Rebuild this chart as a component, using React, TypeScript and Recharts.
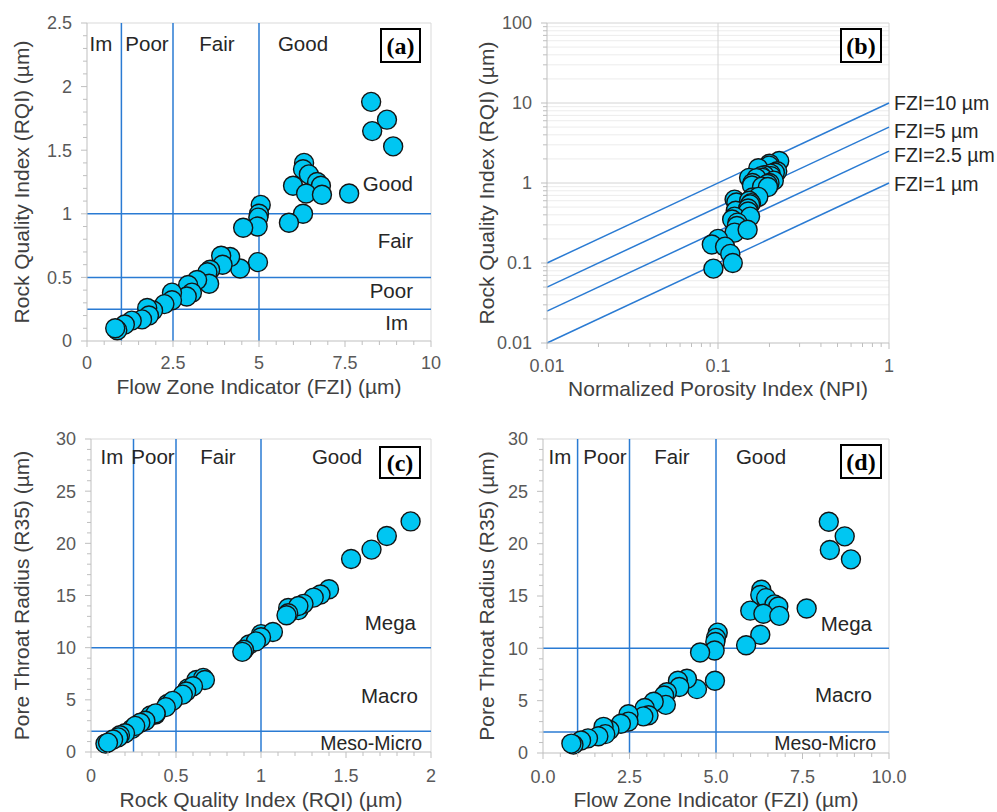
import React from 'react';
import { ScatterChart, Scatter, XAxis, YAxis, ReferenceLine } from 'recharts';

// core plug samples: flow zone indicator (µm), rock quality index (µm),
// normalized porosity index, pore throat radius at 35% saturation (µm)
const FZI = [8.26, 8.72, 8.29, 8.9, 7.62, 6.31, 6.28, 6.45, 5.99, 6.69, 6.8, 6.37, 6.83, 6.28, 5.87, 5.05, 5.0, 4.98, 4.96, 4.54, 4.97, 4.45, 4.16, 3.9, 3.94, 3.58, 3.5, 3.55, 3.2, 2.94, 3.05, 2.9, 2.47, 2.47, 2.25, 1.92, 1.75, 1.8, 1.6, 1.3, 1.1, 0.88, 0.82];
const RQI = [1.88, 1.74, 1.65, 1.53, 1.16, 1.4, 1.35, 1.31, 1.22, 1.25, 1.22, 1.16, 1.15, 1.0, 0.93, 1.07, 1.0, 0.97, 0.9, 0.89, 0.62, 0.57, 0.66, 0.67, 0.6, 0.56, 0.54, 0.45, 0.48, 0.44, 0.38, 0.35, 0.38, 0.32, 0.29, 0.24, 0.26, 0.2, 0.17, 0.16, 0.13, 0.085, 0.1];
const NPI = [0.228, 0.2, 0.199, 0.172, 0.152, 0.222, 0.215, 0.203, 0.204, 0.187, 0.179, 0.182, 0.168, 0.159, 0.158, 0.212, 0.2, 0.195, 0.181, 0.196, 0.125, 0.128, 0.159, 0.172, 0.152, 0.156, 0.154, 0.127, 0.15, 0.15, 0.125, 0.121, 0.154, 0.13, 0.129, 0.125, 0.149, 0.1, 0.092, 0.11, 0.118, 0.094, 0.122];
const R35 = [22.1, 20.7, 19.4, 18.5, 13.8, 15.6, 15.1, 14.8, 13.6, 14.2, 14.0, 13.3, 13.1, 11.3, 10.3, 11.5, 11.0, 10.6, 9.8, 9.6, 6.9, 6.1, 7.1, 6.9, 6.3, 5.8, 5.5, 4.6, 4.9, 4.3, 3.6, 3.5, 3.7, 3.0, 2.8, 2.2, 2.5, 1.8, 1.6, 1.4, 1.2, 0.8, 0.9];

// class boundaries
const FZI_CUTS = [1, 2.5, 5];
const RQI_CUTS = [0.25, 0.5, 1];
const R35_CUTS = [2, 10];
// iso-FZI lines drawn across the NPI range
const FZI_LINES = [10, 5, 2.5, 1];
const NPI_RANGE = [0.01, 1];

const samples = FZI.map((f, i) => ({ fzi: f, rqi: RQI[i], npi: NPI[i], r35: R35[i] }));

const AXIS_GRAY = '#bfbfbf';
const BORDER_GRAY = '#d9d9d9';
const GRID_MAJOR = '#d4d4d4';
const GRID_MINOR = '#ececec';
const ZONE_BLUE = '#2a7bd3';
const DOT_FILL = '#00c6f2';
const TICK_TEXT = '#595959';
const TITLE_TEXT = '#404040';
const NOTE_TEXT = '#262626';
const FONT = '"Liberation Sans", Arial, sans-serif';
const TICK_SIZE = 18;

const linearTicks = (max: number, step: number) =>
  Array.from({ length: Math.round(max / step) + 1 }, (_, i) => +(i * step).toFixed(4));

const logTicks = (lo: number, hi: number) => {
  const out: number[] = [];
  for (let d = lo; d < hi * 0.999; d *= 10) {
    for (let k = 1; k < 10; k++) out.push(+(d * k).toPrecision(3));
  }
  out.push(hi);
  return out;
};

const isMajor = (v: number, majors: number[]) =>
  majors.some((m) => Math.abs(m - v) < 1e-6 * Math.max(1, Math.abs(m)));

const xTick = (majors: number[], fmt: (v: number) => string, dy: number) => (props: any) => {
  const { x, y, payload } = props;
  const major = isMajor(payload.value, majors);
  return (
    <g>
      <line x1={x} x2={x} y1={y} y2={y + (major ? 6 : 4)} stroke={AXIS_GRAY} />
      {major && (
        <text x={x} y={y + dy} textAnchor="middle" fontSize={TICK_SIZE} fill={TICK_TEXT} fontFamily={FONT}>
          {fmt(payload.value)}
        </text>
      )}
    </g>
  );
};

const yTick = (majors: number[], fmt: (v: number) => string) => (props: any) => {
  const { x, y, payload } = props;
  const major = isMajor(payload.value, majors);
  return (
    <g>
      <line x1={x} x2={x - (major ? 6 : 4)} y1={y} y2={y} stroke={AXIS_GRAY} />
      {major && (
        <text x={x - 15} y={y} dy="0.36em" textAnchor="end" fontSize={TICK_SIZE} fill={TICK_TEXT} fontFamily={FONT}>
          {fmt(payload.value)}
        </text>
      )}
    </g>
  );
};

const Bubble = (p: any) => (
  <circle cx={p.cx} cy={p.cy} r={9.5} fill={DOT_FILL} stroke="#141414" strokeWidth={1.4} />
);

const titleStyle = { fill: TITLE_TEXT, fontSize: 21, fontFamily: FONT };

const zoneLines = (xs: number[], ys: number[]) => [
  ...xs.map((v) => <ReferenceLine key={`vx${v}`} x={v} stroke={ZONE_BLUE} strokeWidth={1.5} />),
  ...ys.map((v) => <ReferenceLine key={`hy${v}`} y={v} stroke={ZONE_BLUE} strokeWidth={1.5} />),
];

const frame = (xMax: number, yMax: number) => [
  <ReferenceLine key="top" y={yMax} stroke={BORDER_GRAY} />,
  <ReferenceLine key="right" x={xMax} stroke={BORDER_GRAY} />,
];

const str = (v: number) => String(v);

const Note = ({ x, y, anchor = 'middle', size = 20.5, children }: any) => (
  <text x={x} y={y} textAnchor={anchor} fontSize={size} fill={NOTE_TEXT} fontFamily={FONT}>
    {children}
  </text>
);

const Tag = ({ x, y, w, h, label }: any) => (
  <g>
    <rect x={x} y={y} width={w} height={h} fill="#fff" stroke="#000" strokeWidth={2} />
    <text
      x={x + w / 2}
      y={y + h / 2}
      dy="0.34em"
      textAnchor="middle"
      fontSize={24}
      fontWeight="bold"
      fontFamily='"Liberation Serif", "Times New Roman", serif'
      fill="#000"
    >
      {label}
    </text>
  </g>
);

const box = (left: number, top: number): React.CSSProperties => ({ position: 'absolute', left, top });

export default function App() {
  const fziMinor = linearTicks(10, 0.5);
  const fziMajor = [0, 2.5, 5, 7.5, 10];
  const npiTicks = logTicks(0.01, 1);
  const rqiLogTicks = logTicks(0.01, 100);
  const rqiLogMinor = rqiLogTicks.filter((v) => !isMajor(v, [0.01, 0.1, 1, 10, 100]));

  return (
    <div style={{ position: 'absolute', left: 0, top: 0, width: 997, height: 812, background: '#fff' }}>
      {/* (a) RQI vs FZI */}
      <div style={box(0, 0)}>
        <ScatterChart width={450} height={400} margin={{ top: 23, right: 19, bottom: 4, left: 0 }}>
          {frame(10, 2.5)}
          {zoneLines(FZI_CUTS, RQI_CUTS)}
          <XAxis
            type="number" dataKey="fzi" domain={[0, 10]} ticks={fziMinor} interval={0}
            tickSize={0} tickMargin={0} tickLine={false} axisLine={{ stroke: AXIS_GRAY }}
            tick={xTick(fziMajor, str, 28)} height={55}
            label={{ value: 'Flow Zone Indicator (FZI) (µm)', position: 'insideBottom', offset: 2, ...titleStyle }}
          />
          <YAxis
            type="number" dataKey="rqi" domain={[0, 2.5]} ticks={linearTicks(2.5, 0.1)} interval={0}
            tickSize={0} tickMargin={0} tickLine={false} axisLine={{ stroke: AXIS_GRAY }}
            tick={yTick(linearTicks(2.5, 0.5), str)} width={87}
            label={{ value: 'Rock Quality Index (RQI) (µm)', angle: -90, position: 'insideLeft', offset: 22, style: { textAnchor: 'middle' }, ...titleStyle }}
          />
          <Scatter data={samples} shape={Bubble} isAnimationActive={false} />
        </ScatterChart>
      </div>

      {/* (b) RQI vs NPI, log-log */}
      <div style={box(472, 0)}>
        <ScatterChart width={440} height={400} margin={{ top: 23, right: 23, bottom: 2, left: 0 }}>
          {rqiLogMinor.map((v) => (
            <ReferenceLine key={`gm${v}`} y={v} stroke={GRID_MINOR} />
          ))}
          {[0.1, 1, 10].map((v) => (
            <ReferenceLine key={`gy${v}`} y={v} stroke={GRID_MAJOR} />
          ))}
          <ReferenceLine x={0.1} stroke={GRID_MAJOR} />
          <ReferenceLine y={100} stroke={GRID_MAJOR} />
          <ReferenceLine x={1} stroke={GRID_MAJOR} />
          {FZI_LINES.map((f) => (
            <ReferenceLine
              key={`fzi${f}`}
              segment={[
                { x: NPI_RANGE[0], y: f * NPI_RANGE[0] },
                { x: NPI_RANGE[1], y: f * NPI_RANGE[1] },
              ]}
              stroke={ZONE_BLUE}
              strokeWidth={1.5}
            />
          ))}
          <XAxis
            type="number" dataKey="npi" scale="log" domain={[0.01, 1]} allowDataOverflow ticks={npiTicks} interval={0}
            tickSize={0} tickMargin={0} tickLine={false} axisLine={{ stroke: AXIS_GRAY }}
            tick={xTick([0.01, 0.1, 1], str, 29)} height={55}
            label={{ value: 'Normalized Porosity Index (NPI)', position: 'insideBottom', offset: 2, ...titleStyle }}
          />
          <YAxis
            type="number" dataKey="rqi" scale="log" domain={[0.01, 100]} allowDataOverflow ticks={rqiLogTicks} interval={0}
            tickSize={0} tickMargin={0} tickLine={false} axisLine={{ stroke: AXIS_GRAY }}
            tick={yTick([0.01, 0.1, 1, 10, 100], str)} width={75}
            label={{ value: 'Rock Quality Index (RQI) (µm)', angle: -90, position: 'insideLeft', offset: 15, style: { textAnchor: 'middle' }, ...titleStyle }}
          />
          <Scatter data={samples} shape={Bubble} isAnimationActive={false} />
        </ScatterChart>
      </div>

      {/* (c) R35 vs RQI */}
      <div style={box(0, 410)}>
        <ScatterChart width={450} height={402} margin={{ top: 29, right: 19, bottom: 3, left: 0 }}>
          {frame(2, 30)}
          {zoneLines(RQI_CUTS, R35_CUTS)}
          <XAxis
            type="number" dataKey="rqi" domain={[0, 2]} ticks={linearTicks(2, 0.1)} interval={0}
            tickSize={0} tickMargin={0} tickLine={false} axisLine={{ stroke: AXIS_GRAY }}
            tick={xTick([0, 0.5, 1, 1.5, 2], str, 30)} height={57}
            label={{ value: 'Rock Quality Index (RQI) (µm)', position: 'insideBottom', offset: 2, ...titleStyle }}
          />
          <YAxis
            type="number" dataKey="r35" domain={[0, 30]} ticks={linearTicks(30, 1)} interval={0}
            tickSize={0} tickMargin={0} tickLine={false} axisLine={{ stroke: AXIS_GRAY }}
            tick={yTick(linearTicks(30, 5), str)} width={91}
            label={{ value: 'Pore Throat Radius (R35) (µm)', angle: -90, position: 'insideLeft', offset: 22, style: { textAnchor: 'middle' }, ...titleStyle }}
          />
          <Scatter data={samples} shape={Bubble} isAnimationActive={false} />
        </ScatterChart>
      </div>

      {/* (d) R35 vs FZI */}
      <div style={box(472, 410)}>
        <ScatterChart width={445} height={402} margin={{ top: 29, right: 28, bottom: 3, left: 0 }}>
          {frame(10, 30)}
          {zoneLines(FZI_CUTS, R35_CUTS)}
          <XAxis
            type="number" dataKey="fzi" domain={[0, 10]} ticks={fziMinor} interval={0}
            tickSize={0} tickMargin={0} tickLine={false} axisLine={{ stroke: AXIS_GRAY }}
            tick={xTick(fziMajor, (v) => v.toFixed(1), 30)} height={56}
            label={{ value: 'Flow Zone Indicator (FZI) (µm)', position: 'insideBottom', offset: 2, ...titleStyle }}
          />
          <YAxis
            type="number" dataKey="r35" domain={[0, 30]} ticks={linearTicks(30, 1)} interval={0}
            tickSize={0} tickMargin={0} tickLine={false} axisLine={{ stroke: AXIS_GRAY }}
            tick={yTick(linearTicks(30, 5), str)} width={71}
            label={{ value: 'Pore Throat Radius (R35) (µm)', angle: -90, position: 'insideLeft', offset: 15, style: { textAnchor: 'middle' }, ...titleStyle }}
          />
          <Scatter data={samples} shape={Bubble} isAnimationActive={false} />
        </ScatterChart>
      </div>

      {/* class names, iso-FZI labels and panel tags */}
      <svg width={997} height={812} style={{ position: 'absolute', left: 0, top: 0, pointerEvents: 'none' }}>
        <Note x={101} y={51}>Im</Note>
        <Note x={147} y={51}>Poor</Note>
        <Note x={217} y={51}>Fair</Note>
        <Note x={303} y={51}>Good</Note>
        <Note x={413} y={191} anchor="end">Good</Note>
        <Note x={413} y={248} anchor="end">Fair</Note>
        <Note x={413} y={298} anchor="end">Poor</Note>
        <Note x={408} y={330} anchor="end">Im</Note>
        <Tag x={381} y={29} w={39} h={33} label="(a)" />

        <Note x={894} y={110} anchor="start" size={19.5}>FZI=10 µm</Note>
        <Note x={894} y={138} anchor="start" size={19.5}>FZI=5 µm</Note>
        <Note x={894} y={162} anchor="start" size={19.5}>FZI=2.5 µm</Note>
        <Note x={894} y={191} anchor="start" size={19.5}>FZI=1 µm</Note>
        <Tag x={841} y={29} w={40} h={33} label="(b)" />

        <Note x={112} y={464}>Im</Note>
        <Note x={153} y={464}>Poor</Note>
        <Note x={218} y={464}>Fair</Note>
        <Note x={337} y={464}>Good</Note>
        <Note x={416} y={630} anchor="end">Mega</Note>
        <Note x={418} y={703} anchor="end">Macro</Note>
        <Note x={422} y={750} anchor="end" size={19.5}>Meso-Micro</Note>
        <Tag x={380} y={447} w={40} h={31} label="(c)" />

        <Note x={560} y={464}>Im</Note>
        <Note x={605} y={464}>Poor</Note>
        <Note x={672} y={464}>Fair</Note>
        <Note x={761} y={464}>Good</Note>
        <Note x={872} y={631} anchor="end">Mega</Note>
        <Note x={872} y={702} anchor="end">Macro</Note>
        <Note x={876} y={750} anchor="end" size={19.5}>Meso-Micro</Note>
        <Tag x={841} y={445} w={40} h={33} label="(d)" />
      </svg>
    </div>
  );
}
